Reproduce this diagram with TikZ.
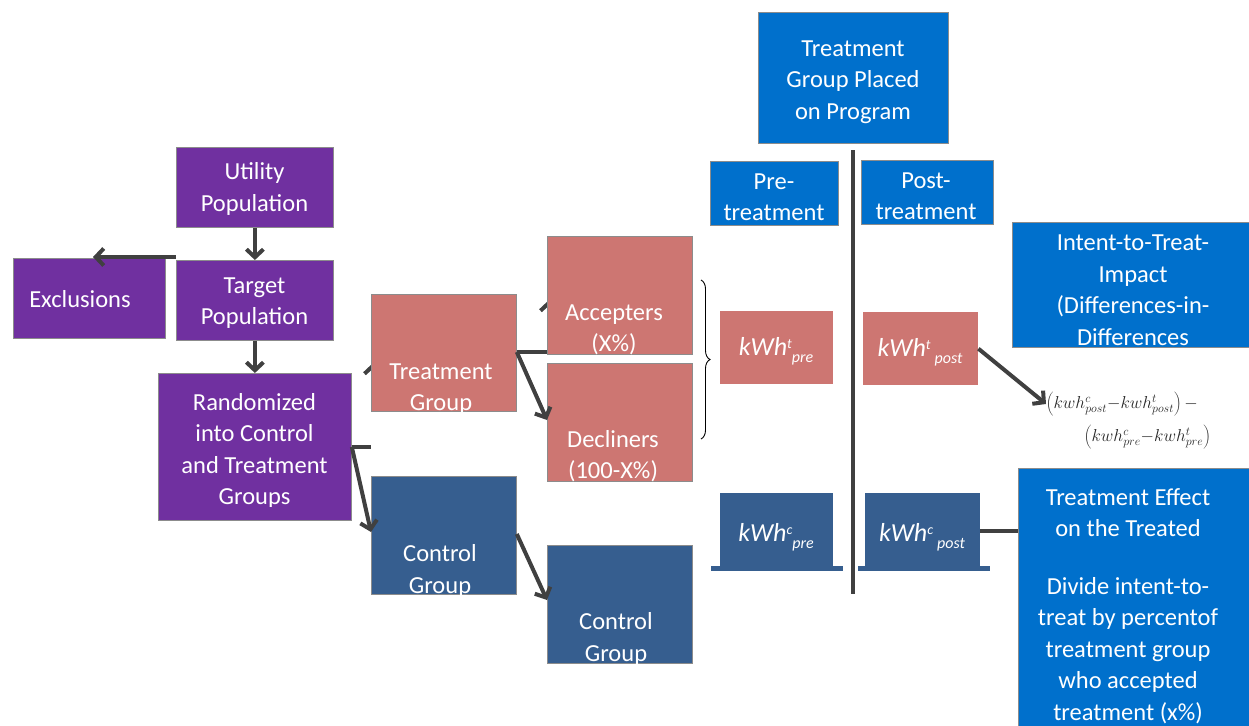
\documentclass[tikz,border=0pt]{standalone}
\usepackage{fontspec}
\setmainfont{Carlito}
\usetikzlibrary{arrows.meta,decorations.pathreplacing,calc}
\pgfdeclarelayer{bg}
\pgfsetlayers{bg,main}
\definecolor{purp}{HTML}{7030A0}
\definecolor{salm}{HTML}{CD7672}
\definecolor{navy}{HTML}{365E8F}
\definecolor{bblue}{HTML}{0070CC}
\definecolor{conn}{HTML}{404040}
\definecolor{mathc}{HTML}{262626}
\newcommand{\kwhlab}[3]{kWh\raisebox{7pt}{\fontsize{14}{14}\selectfont #1}\hspace{#3}\raisebox{-7pt}{\fontsize{16}{16}\selectfont #2}}
\begin{document}
\begin{tikzpicture}[x=1pt,y=-1pt,
  box/.style={draw=black!45, line width=0.8pt, inner sep=0pt, anchor=north west},
  flat/.style={inner sep=0pt, anchor=north west},
  txt/.style={text=white, align=center, inner sep=0pt, font=\fontsize{24.5}{31.5}\selectfont},
  kw/.style={text=white, inner sep=0pt, font=\fontsize{26}{26}\selectfont\itshape},
  formula/.style={anchor=west, inner sep=0pt, text=mathc, font=\fontsize{16.5}{18}\selectfont},
  line/.style={draw=conn, line width=4pt},
  arr/.style={line, -{Straight Barb[length=8pt,width=17pt]}},
  sz/.style 2 args={minimum width=#1, minimum height=#2},
]
\useasboundingbox (0,0) rectangle (1249,725);
\clip (0,0) rectangle (1249,725);

% ---- left column (purple)
\node[box, fill=purp, sz={157pt}{80pt}] (util) at (176,147) {};
\node[txt] (utilT) at (254.5,189) {Utility\\Population};
\node[box, fill=purp, sz={157pt}{80pt}] (target) at (176,260) {};
\node[txt] (targetT) at (254.5,303) {Target\\Population};
\node[box, fill=purp, sz={152pt}{80pt}] (excl) at (13,258) {};
\node[txt] (exclT) at (80,299) {Exclusions};
\node[box, fill=purp, sz={193pt}{147pt}] (rand) at (158,373) {};
\begin{scope}
\clip (rand.north west) rectangle (351,506);
\node[txt] (randT) at (254.5,451) {Randomized\\into Control\\and Treatment\\Groups};
\end{scope}

% ---- groups
\node[box, fill=salm, sz={145pt}{117pt}] (treat) at (371,294) {};
\node[box, fill=salm, sz={145pt}{118pt}] (accept) at (547,236) {};
\node[box, fill=salm, sz={145pt}{118pt}] (decl) at (547,363) {};
\node[box, fill=navy, sz={145pt}{118pt}] (ctrl1) at (371,476) {};
\node[box, fill=navy, sz={145pt}{118pt}] (ctrl2) at (547,545) {};
\begin{scope}
\clip (treat.north west) rectangle (treat.south east);
\node[txt] (treatT) at (441,389) {Treatment\\Group};
\end{scope}
\begin{scope}
\clip (accept.north west) rectangle (accept.south east);
\node[txt] (acceptT) at (614,330) {Accepters\\(X\%)};
\end{scope}
\begin{scope}
\clip (decl.north west) rectangle (decl.south east);
\node[txt] (declT) at (613,456) {Decliners\\(100-X\%)};
\end{scope}
\begin{scope}
\clip (ctrl1.north west) rectangle (ctrl1.south east);
\node[txt] (ctrl1T) at (440,571) {Control\\Group};
\end{scope}
\begin{scope}
\clip (ctrl2.north west) rectangle (ctrl2.south east);
\node[txt] (ctrl2T) at (616,639) {Control\\Group};
\end{scope}

% ---- brace
\coordinate (braceTop) at (701,280);
\coordinate (braceBot) at (701,439);
\draw[decorate, decoration={brace, amplitude=9pt}, line width=0.9pt] (braceTop) -- (braceBot);

% ---- right part
\node[box, fill=bblue, sz={190pt}{131pt}] (placed) at (758,12) {};
\node[txt] (placedT) at (853,82) {Treatment\\Group Placed\\on Program};
\node[box, fill=bblue, sz={128pt}{64pt}] (pre) at (710,161) {};
\node[txt] (preT) at (774,197) {Pre-\\treatment};
\node[box, fill=bblue, sz={132pt}{64pt}] (post) at (861,160) {};
\node[txt] (postT) at (926,196) {Post-\\treatment};

\coordinate (vTop) at (853,150);
\coordinate (vBot) at (853,594);
\draw[line] (vTop) -- (vBot);

\node[flat, fill=salm, sz={113pt}{73pt}] (ktpre) at (720,311) {};
\node[kw] (ktpreT) at (776,351) {\kwhlab{t}{pre}{0pt}};
\node[flat, fill=salm, sz={115pt}{73pt}] (ktpost) at (863,312) {};
\node[kw] (ktpostT) at (920,352) {\kwhlab{t}{post}{4pt}};
\node[flat, fill=navy, sz={132pt}{5pt}] (kcpreBar) at (711,566) {};
\node[flat, fill=navy, sz={113pt}{75pt}] (kcpre) at (720,493) {};
\node[kw] (kcpreT) at (776,537) {\kwhlab{c}{pre}{0pt}};
\node[flat, fill=navy, sz={132pt}{5pt}] (kcpostBar) at (858,566) {};
\node[flat, fill=navy, sz={115pt}{75pt}] (kcpost) at (865,493) {};
\node[kw] (kcpostT) at (922,537) {\kwhlab{c}{post}{4pt}};

\node[box, fill=bblue, sz={250pt}{125pt}] (itt) at (1012,222) {};
\node[txt] (ittT) at (1133,290) {Intent-to-Treat-\\Impact\\(Differences-in-\\Differences};
\node[box, fill=bblue, sz={250pt}{280pt}] (tet) at (1018,468) {};
\node[txt] (tetT) at (1128,606) {Treatment Effect\\on the Treated\\[26pt]Divide intent-to-\\treat by percentof\\treatment group\\who accepted\\treatment (x\%)};

\node[formula] (form1) at (1046,404) {$\left(kwh^{c}_{post}{-}kwh^{t}_{post}\right)-$};
\node[formula] (form2) at (1084,437) {$\left(kwh^{c}_{pre}{-}kwh^{t}_{pre}\right)$};

% ---- connectors behind boxes
\begin{pgfonlayer}{bg}
\draw[arr] ([xshift=2pt]treat.south west) -- ($(treat.north west)+(2,69)$);
\draw[arr] (treat.east |- 0,352) -| ($(accept.north west)+(2,64)$);
\end{pgfonlayer}

% ---- connectors in front
\coordinate (exTip) at (93,257);
\draw[arr] (target.west |- exTip) -- (exTip);
\draw[arr] (util.south) -- (target.north);
\draw[arr] (target.south) -- (rand.north);
\draw[line] (rand.east) -- (rand.east -| treat.west);
\draw[arr] (rand.east) -- (ctrl1.west |- 0,532);
\draw[arr] (treat.east |- 0,352) -- (decl.west |- 0,420);
\draw[arr] (ctrl1.east |- 0,534) -- (ctrl2.west |- 0,600);
\draw[arr] (ktpost.east) -- (form1.west);
\draw[line] (kcpost.east) -- (kcpost.east -| tet.west);
\end{tikzpicture}
\end{document}
